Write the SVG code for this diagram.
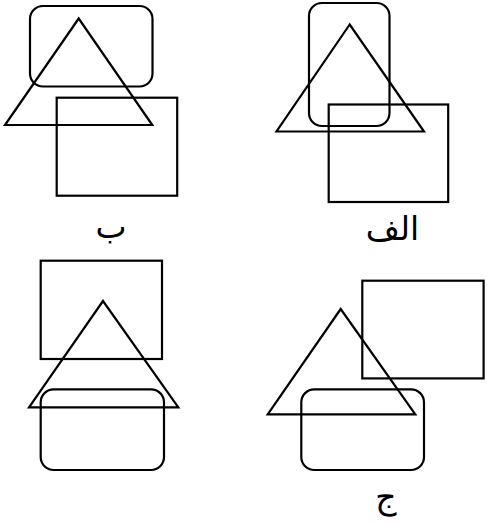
<svg xmlns="http://www.w3.org/2000/svg" width="487" height="524" viewBox="0 0 487 524">
<style>
.s{fill:none;stroke:#000;stroke-width:2.2;stroke-linejoin:miter}
.t{font-family:"DejaVu Sans","Noto Sans",sans-serif;font-size:33px;fill:#000;text-anchor:middle}
</style>
<rect width="487" height="524" fill="#fff"/>
<g id="panel-alef">
<rect class="s" x="309" y="3" width="80.5" height="123" rx="13"/>
<polygon class="s" points="349.7,24.5 276.5,131.5 424,131.5"/>
<rect class="s" x="328.7" y="104.5" width="119.5" height="97.5"/>
<text class="t" x="392.5" y="240" direction="rtl">الف</text>
</g>
<g id="panel-be">
<rect class="s" x="30" y="6" width="122.5" height="80.5" rx="13"/>
<polygon class="s" points="78.7,18.5 5,125 152.3,125"/>
<rect class="s" x="56.7" y="97.7" width="120.5" height="98"/>
<text class="t" x="111" y="238" direction="rtl">ب</text>
</g>
<g id="panel-dal">
<rect class="s" x="40.7" y="260.7" width="121.3" height="98.3"/>
<polygon class="s" points="103,301 29,407.3 178.3,407.3"/>
<rect class="s" x="40.7" y="389.3" width="123.3" height="80.7" rx="13"/>
</g>
<g id="panel-jim">
<rect class="s" x="362.3" y="280.7" width="121.3" height="97.7"/>
<polygon class="s" points="340.7,309 267.7,414.3 415.3,414.3"/>
<rect class="s" x="301.3" y="389.3" width="122.7" height="80.7" rx="13"/>
<text class="t" x="386" y="508" direction="rtl">ج</text>
</g>
<g id="connectors"/>
</svg>
